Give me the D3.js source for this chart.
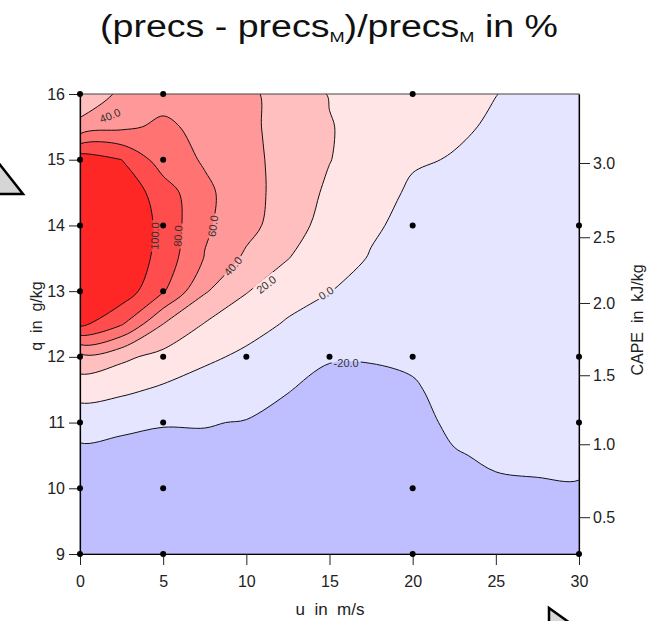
<!DOCTYPE html>
<html>
<head>
<meta charset="utf-8">
<script src="https://cdn.jsdelivr.net/npm/d3@7"></script>
<style>
  body { margin: 0; background: #fff; }
  svg text { font-family: "Liberation Sans", Arial, Helvetica, sans-serif; }
</style>
</head>
<body>
<svg id="chart" width="656" height="621"></svg>
<script>
// relative precipitation change (%) on a u / q grid
var uGrid = [0, 2.5, 5, 7.5, 10, 12.5, 15, 17.5, 20, 22.5, 25, 27.5, 30];
var qGrid = [16, 15.5, 15, 14.5, 14, 13.5, 13, 12.5, 12, 11.5, 11, 10.5, 10, 9.5, 9];
var field = [
  [ 25,  44,  52,  50,  44,  32,  19,   14,   7,   4,  0.2,  -4,   -5],
  [ 46,  56,  64,  54,  44,  33,  21,   13,   5, 2.5,   -2,  -5,   -6],
  [112, 100,  70,  58,  48,  30, 20.5,  11,   2,  -1,   -4,  -6,   -7],
  [118, 114,  90,  64,  49,  30,  17,    8,  -3,  -3,   -6,  -7,   -7],
  [122, 119,  94,  63,  47,  28,  13,    2,  -4,  -5,   -7,  -8,   -8],
  [122, 118,  92,  59,  36, 20.5,  7,   -1,  -7,  -6,   -8,  -9,   -9],
  [118, 112,  82,  42,  21,   8, 0.5,   -8, -10,  -8,   -9, -10,  -10],
  [105,  82,  40,  19,   8,  -2,  -9,  -14, -13, -10,  -10, -11,  -11],
  [ 33,  24,  14,   4,  -4,  -8, -19,  -19, -17, -12,  -11, -12,  -12],
  [  8,   4,  -3, -10, -10, -19.5, -24, -24, -22, -14, -13, -13,  -13],
  [-12, -16, -19, -19, -21, -24, -26,  -26, -25, -17,  -15, -15,  -15],
  [-25, -26, -26, -25, -26, -26, -28,  -28, -28, -21,  -18, -17,  -17],
  [-34, -32, -30, -30, -30, -29, -30,  -30, -30, -27,  -22, -21.5, -21],
  [-40, -37, -35, -34, -33, -32, -32,  -32, -32, -30,  -27, -26,  -25],
  [-45, -42, -40, -38, -36, -35, -34,  -34, -34, -32,  -30, -29,  -28]
];
var levels = [-20, 0, 20, 40, 60, 80, 100];

// model runs (black dots)
var runU = [0, 5, 20,  0, 5,  0, 5, 20, 30,  0, 5,  0, 5, 10, 15, 20, 30,  0, 5, 30,  0, 5, 20,  0, 5, 20, 30];
var runQ = [16, 16, 16, 15, 15, 14, 14, 14, 14, 13, 13, 12, 12, 12, 12, 12, 12, 11, 11, 11, 10, 10, 10, 9, 9, 9, 9];

var uTicks = [0, 5, 10, 15, 20, 25, 30];
var qTicks = [9, 10, 11, 12, 13, 14, 15, 16];
var capeLabels = ["0.5", "1.0", "1.5", "2.0", "2.5", "3.0"];
var capeAtQ = [9.56, 10.67, 11.72, 12.82, 13.82, 14.95];

// contour labels: level, where it sits (u, q) and its tilt
var labelLevel = [40, 100, 80, 60, 40, 20, 0, -20];
var labelU = [1.8, 4.5, 5.9, 8.0, 9.2, 11.2, 14.8, 16.0];
var labelQ = [15.67, 13.84, 13.84, 13.99, 13.38, 13.1, 12.97, 11.9];
var labelAngle = [-22, -88, -88, -82, -50, -38, -33, 0];

var bandColors = ["#bfbfff", "#e5e5ff", "#ffe5e5", "#ffbfbf", "#ff9999", "#ff7373", "#ff4d4d", "#ff2626"];

var svg = d3.select("#chart");
var plotLeft = 80, plotRight = 579, plotTop = 94, plotBottom = 554;

var x = d3.scaleLinear().domain([0, 30]).range([plotLeft, plotRight]);
var y = d3.scaleLinear().domain([9, 16]).range([plotBottom, plotTop]);

// decorations cut off at the edges of the original picture
svg.append("path")
    .attr("d", "M-3,161L23,194L-3,194Z")
    .attr("fill", "#d6d6d6").attr("stroke", "#000").attr("stroke-width", 2.5);
svg.append("path")
    .attr("d", "M549,608L570,623L549,623Z")
    .attr("fill", "#d6d6d6").attr("stroke", "#000").attr("stroke-width", 2.5);

// title
var title = svg.append("text")
    .attr("x", 329).attr("y", 37)
    .attr("text-anchor", "middle")
    .attr("font-size", 31)
    .attr("fill", "#111");
title.append("tspan").text("(precs - precs");
title.append("tspan").attr("font-size", 15).attr("dy", 5).text("M");
title.append("tspan").attr("dy", -5).text(")/precs");
title.append("tspan").attr("font-size", 15).attr("dy", 5).text("M");
title.append("tspan").attr("dy", -5).text(" in %");
title.attr("textLength", 458).attr("lengthAdjust", "spacingAndGlyphs");

var defs = svg.append("defs");
defs.append("clipPath").attr("id", "plotClip")
  .append("rect").attr("x", plotLeft).attr("y", plotTop)
    .attr("width", plotRight - plotLeft).attr("height", plotBottom - plotTop);

// contours on the grid
var nx = uGrid.length, ny = qGrid.length;
var values = [].concat.apply([], field);
var contours = d3.contours().size([nx, ny]).thresholds(levels)(values);

function toPx(p) {
  var u = uGrid[0] + (p[0] - 0.5) * (uGrid[1] - uGrid[0]);
  var q = qGrid[0] + (p[1] - 0.5) * (qGrid[1] - qGrid[0]);
  return [x(u), y(q)];
}
var ringLine = d3.line().curve(d3.curveCatmullRomClosed.alpha(0.5));
function contourPath(geom) {
  return geom.coordinates.map(function(poly) {
    return poly.map(function(ring) {
      var pts = ring.slice(0, ring.length - 1).map(toPx);
      return ringLine(pts);
    }).join("");
  }).join("");
}

var plot = svg.append("g").attr("clip-path", "url(#plotClip)");
plot.append("rect")
    .attr("x", plotLeft).attr("y", plotTop)
    .attr("width", plotRight - plotLeft).attr("height", plotBottom - plotTop)
    .attr("fill", bandColors[0]);

plot.selectAll("path.band")
  .data(contours)
  .enter().append("path")
    .attr("class", "band")
    .attr("d", contourPath)
    .attr("fill", function(d, i) { return bandColors[i + 1]; });

// gaps in the contour lines where the labels sit
var mask = defs.append("mask").attr("id", "labelGaps")
    .attr("maskUnits", "userSpaceOnUse")
    .attr("x", 0).attr("y", 0).attr("width", 656).attr("height", 621);
mask.append("rect").attr("width", 656).attr("height", 621).attr("fill", "#fff");

var lines = plot.append("g").attr("mask", "url(#labelGaps)");
lines.selectAll("path.iso")
  .data(contours)
  .enter().append("path")
    .attr("class", "iso")
    .attr("d", contourPath)
    .attr("fill", "none")
    .attr("stroke", "#111")
    .attr("stroke-width", 1);

var labels = svg.append("g");
labelLevel.forEach(function(lv, i) {
  var t = labels.append("text")
      .attr("transform", "translate(" + x(labelU[i]) + "," + y(labelQ[i]) + ") rotate(" + labelAngle[i] + ")")
      .attr("text-anchor", "middle")
      .attr("dy", "0.35em")
      .attr("font-size", 11)
      .attr("fill", "#333")
      .text(lv.toFixed(1));
  var w = t.node().getComputedTextLength() + 4;
  mask.append("rect")
      .attr("transform", "translate(" + x(labelU[i]) + "," + y(labelQ[i]) + ") rotate(" + labelAngle[i] + ")")
      .attr("x", -w / 2).attr("y", -6).attr("width", w).attr("height", 12)
      .attr("fill", "#000");
});

// frame
svg.append("rect")
    .attr("x", plotLeft).attr("y", plotTop)
    .attr("width", plotRight - plotLeft).attr("height", plotBottom - plotTop)
    .attr("fill", "none").attr("stroke", "#444").attr("stroke-width", 1);

// axes
function styleAxis(g) {
  g.selectAll("path.domain").attr("stroke", "#000").attr("stroke-width", 1.2);
  g.selectAll(".tick line").attr("stroke", "#222");
  g.selectAll(".tick text").attr("font-size", 16).attr("fill", "#222")
    .attr("font-family", "Liberation Sans, Arial, sans-serif");
}
svg.append("g")
    .attr("transform", "translate(" + plotLeft + ",0)")
    .call(d3.axisLeft(y).tickValues(qTicks).tickSize(11).tickSizeOuter(0).tickPadding(4)
      .tickFormat(d3.format("d")))
    .call(styleAxis);
svg.append("g")
    .attr("transform", "translate(0," + plotBottom + ")")
    .call(d3.axisBottom(x).tickValues(uTicks).tickSize(11).tickSizeOuter(0).tickPadding(11)
      .tickFormat(d3.format("d")))
    .call(styleAxis);
svg.append("g")
    .attr("transform", "translate(" + plotRight + ",0)")
    .call(d3.axisRight(y).tickValues(capeAtQ).tickSize(11).tickSizeOuter(0).tickPadding(3)
      .tickFormat(function(d, i) { return capeLabels[i]; }))
    .call(styleAxis);

// sample points
svg.append("g").selectAll("circle")
  .data(runU)
  .enter().append("circle")
    .attr("cx", function(d) { return x(d); })
    .attr("cy", function(d, i) { return y(runQ[i]); })
    .attr("r", 3)
    .attr("fill", "#000");

// axis titles
svg.append("text")
    .attr("x", 330).attr("y", 615)
    .attr("text-anchor", "middle")
    .attr("font-size", 17).attr("fill", "#222")
    .attr("xml:space", "preserve")
    .text("u  in  m/s");
svg.append("text")
    .attr("transform", "translate(42,316) rotate(-90)")
    .attr("text-anchor", "middle")
    .attr("font-size", 16).attr("fill", "#222")
    .attr("xml:space", "preserve")
    .text("q  in  g/kg");
svg.append("text")
    .attr("transform", "translate(643,320) rotate(-90)")
    .attr("text-anchor", "middle")
    .attr("font-size", 16).attr("fill", "#222")
    .attr("xml:space", "preserve")
    .text("CAPE  in  kJ/kg");
</script>
</body>
</html>
